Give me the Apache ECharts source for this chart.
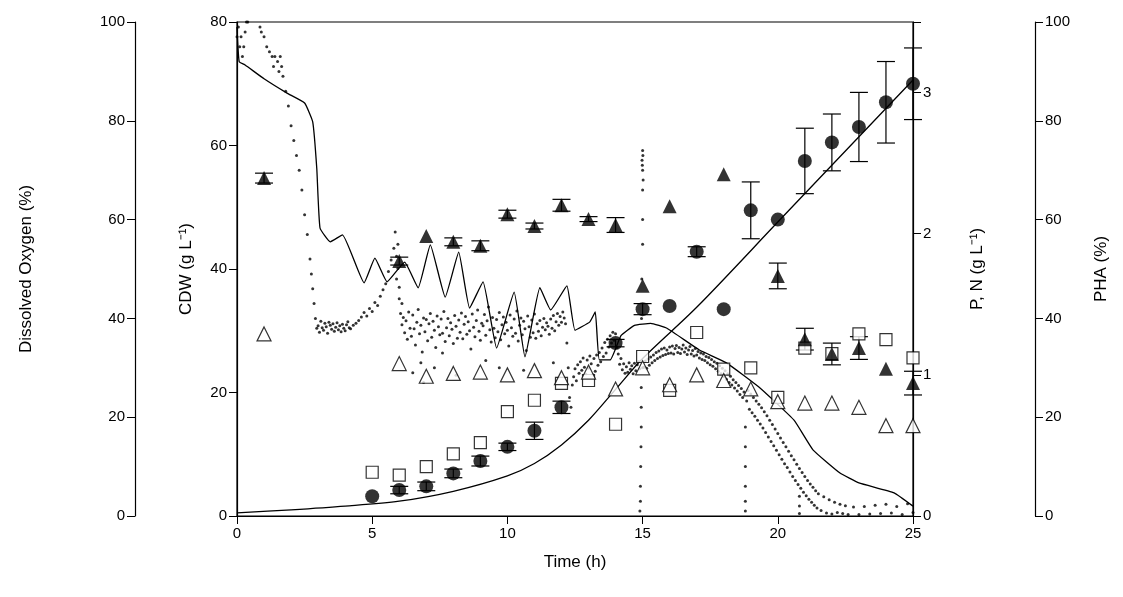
<!DOCTYPE html>
<html>
<head>
<meta charset="UTF-8">
<title>Fermentation profile</title>
<script src="https://cdn.jsdelivr.net/npm/echarts@6/dist/echarts.min.js"></script>
<style>
  html, body { margin: 0; padding: 0; background: #fff; }
  #chart { width: 1123px; height: 597px; }
</style>
</head>
<body>
<div id="chart"></div>
<script>
// CDW (g/L), filled circles
var cdwTime = [5, 6, 7, 8, 9, 10, 11, 12, 14, 15, 16, 17, 18, 19, 20, 21, 22, 23, 24, 25];
var cdwValue = [3.2, 4.2, 4.8, 6.9, 8.9, 11.2, 13.8, 17.6, 28, 33.5, 34, 42.8, 33.5, 49.5, 48, 57.5, 60.5, 63, 67, 70];
var cdwErr = [0, 0.6, 0.7, 0.7, 0.8, 0.6, 1.4, 1.0, 0.6, 0.9, 0, 0.8, 0, 4.6, 0, 5.3, 4.6, 5.6, 6.6, 5.8];
// CDW model line
var fitTime = [0, 2, 4, 6, 8, 10, 11, 12, 13, 14, 15, 17, 20, 25];
var fitValue = [0.5, 1.0, 1.6, 2.4, 4.0, 6.5, 8.5, 11.5, 15.5, 20.5, 25.5, 33.8, 47.6, 70.6];
// PHA (%), filled triangles
var phaTime = [1, 6, 7, 8, 9, 10, 11, 12, 13, 14, 15, 16, 18, 20, 21, 22, 23, 24, 25];
var phaValue = [68.4, 51.6, 56.7, 55.5, 54.7, 61.1, 58.7, 62.9, 60.1, 58.9, 46.6, 62.7, 69.2, 48.6, 35.8, 32.8, 34, 29.8, 26.9];
var phaErr = [1.0, 0.8, 0, 0.8, 1.0, 0.8, 0.6, 1.2, 0.5, 1.5, 0, 0, 0, 2.6, 2.2, 2.2, 2.3, 0, 2.4];
// P (g/L), open squares
var pTime = [5, 6, 7, 8, 9, 10, 11, 12, 13, 14, 15, 16, 17, 18, 19, 20, 21, 22, 23, 24, 25];
var pValue = [0.31, 0.29, 0.35, 0.44, 0.52, 0.74, 0.82, 0.94, 0.96, 0.65, 1.13, 0.89, 1.30, 1.04, 1.05, 0.84, 1.19, 1.15, 1.29, 1.25, 1.12];
// N (g/L), open triangles
var nTime = [1, 6, 7, 8, 9, 10, 11, 12, 13, 14, 15, 16, 17, 18, 19, 20, 21, 22, 23, 24, 25];
var nValue = [1.29, 1.08, 0.99, 1.01, 1.02, 1.00, 1.03, 0.98, 1.02, 0.90, 1.05, 0.93, 1.00, 0.96, 0.90, 0.81, 0.80, 0.80, 0.77, 0.64, 0.64];
// dissolved oxygen line (%)
var doLineTime = [0, 0.08, 0.3, 1.0, 1.85, 2.5, 2.8, 2.95, 3.07, 3.45, 3.9, 4.7, 5.1, 5.55, 6.2, 6.7, 7.15, 7.7, 8.2, 8.6, 9.1, 9.6, 10.25, 10.65, 11.2, 11.6, 12.2, 12.5, 13.05, 13.25, 13.4, 13.8, 14.2, 14.7, 15.3, 15.9, 17.1, 18.1, 19.3, 20.6, 21.3, 22.3, 23, 24.3, 25];
var doLineValue = [99, 92, 91.3, 88.5, 85.6, 83.6, 79.8, 70.4, 58.3, 55.5, 56.9, 47.2, 52.2, 47.4, 51.4, 46.2, 54.9, 44.3, 53.4, 42.1, 47.4, 34, 45.3, 32.2, 46.2, 41.7, 46.6, 37.6, 39.3, 41.3, 31.6, 31.6, 36.5, 38.6, 39.0, 38.0, 33.6, 31, 26.1, 19.4, 13.4, 8.7, 6.7, 4.7, 2];
// measured dissolved oxygen (%), small dots
var doDots = [
[0,97],[0.05,99],[0.1,95],[0.15,97],[0.2,93],[0.25,95],[0.3,98],[0.35,100],[0.4,100],
[0.85,99],[0.9,98],[1.0,97],[1.1,95],[1.2,94],[1.3,93],[1.35,91],[1.4,93],[1.5,92],[1.55,90],[1.6,93],[1.65,91],[1.7,89],[1.8,86],[1.9,83],[2.0,79],[2.1,76],[2.2,73],[2.3,70],[2.4,66],[2.5,61],[2.6,57],[2.7,52],[2.75,49],[2.8,46],[2.85,43],[2.9,40],[2.95,38],
[3.0,38.5],[3.05,37.2],[3.1,39.4],[3.15,38.1],[3.2,37.6],[3.25,39.0],[3.3,38.3],[3.35,37.0],[3.4,39.2],[3.45,38.6],[3.5,37.8],[3.55,38.9],[3.6,37.4],[3.65,38.2],[3.7,39.1],[3.75,37.7],[3.8,38.5],[3.85,37.3],[3.9,38.8],[3.95,38.0],[4.0,37.5],[4.05,38.7],[4.1,39.3],[4.15,38.1],[4.2,37.9],[4.3,38.6],[4.4,39.0],[4.5,39.6],[4.6,40.3],[4.7,41.2],[4.8,40.5],[4.9,42.0],[5.0,41.4],[5.1,43.2],[5.2,42.6],[5.3,44.5],[5.4,45.8],[5.5,47.0],[5.6,49.5],[5.7,51.8],[5.8,54.2],[5.85,57.5],[5.9,52.6],[5.95,50.1],[6.0,46.3],[6.05,41.0],[6.1,38.7],
[6.15,40.2],[6.2,37.1],[6.25,39.5],[6.3,35.8],[6.35,41.3],[6.4,38.0],[6.45,36.4],[6.5,40.7],[6.55,37.9],[6.6,34.6],[6.65,39.2],[6.7,41.8],[6.75,36.9],[6.8,38.6],[6.85,33.2],[6.9,40.1],[6.95,37.3],[7.0,39.8],[7.05,35.5],[7.1,38.9],[7.15,41.0],[7.2,36.2],[7.25,39.4],[7.3,37.6],[7.35,34.1],[7.4,40.5],[7.45,38.3],[7.5,36.7],[7.55,39.9],[7.6,37.0],[7.65,41.4],[7.7,35.3],[7.75,38.1],[7.8,40.0],[7.85,36.5],[7.9,39.1],[7.95,37.8],[8.0,34.9],[8.05,40.6],[8.1,38.4],[8.15,36.0],[8.2,39.7],[8.25,37.2],[8.3,41.1],[8.35,35.9],[8.4,38.8],[8.45,40.4],[8.5,36.8],[8.55,39.3],[8.6,37.5],[8.65,33.8],[8.7,40.9],[8.75,38.2],[8.8,36.3],[8.85,39.6],[8.9,41.7],[8.95,37.4],[9.0,35.6],[9.05,39.0],[9.1,38.5],[9.15,40.8],[9.2,36.6],[9.25,39.5],[9.3,42.3],[9.35,37.7],[9.4,35.2],[9.45,40.2],[9.5,38.0],[9.55,36.1],[9.6,39.8],[9.65,37.3],[9.7,41.2],[9.75,35.7],[9.8,38.7],[9.85,40.3],[9.9,36.9],[9.95,39.2],[10.0,37.6],[10.05,34.4],[10.1,40.7],[10.15,38.1],[10.2,36.4],[10.25,39.9],[10.3,37.0],[10.35,41.5],[10.4,35.4],[10.45,38.6],[10.5,40.1],[10.55,36.7],[10.6,39.4],[10.65,37.9],[10.7,33.5],[10.75,40.5],[10.8,38.3],[10.85,36.2],[10.9,39.7],[10.95,37.1],[11.0,40.9],[11.05,36.0],[11.1,38.9],[11.15,37.4],[11.2,39.6],[11.25,36.5],[11.3,38.2],[11.35,40.0],[11.4,37.7],[11.45,39.1],[11.5,38.4],[11.55,36.8],[11.6,39.9],[11.65,38.0],[11.7,40.6],[11.75,37.5],[11.8,39.3],[11.85,41.0],[11.9,38.6],[11.95,40.4],[12.0,39.2],[12.05,41.3],[12.1,40.1],[12.15,38.9],[12.2,35.0],
[6.5,29],[6.8,31],[7.3,30],[8.1,28.5],[9.2,31.5],[9.7,30],[10.6,29.5],[11.7,31],[6.9,27],[7.6,33],[6.0,44],[5.9,48],[6.1,43],[5.95,55],
[12.25,30],[12.3,24],[12.35,22],[12.4,26.5],[12.45,28.2],[12.5,29.8],[12.55,27.4],[12.6,30.6],[12.65,28.9],[12.7,31.2],[12.75,29.5],[12.8,32.0],[12.85,30.1],[12.9,28.7],[12.95,31.6],[13.0,29.9],[13.05,32.4],[13.1,30.8],[13.15,28.6],[13.2,31.9],[13.25,29.3],[13.3,32.6],[13.35,30.5],[13.4,33.1],[13.45,31.2],[13.5,34.0],[13.55,32.3],[13.6,35.1],[13.65,33.0],[13.7,35.8],[13.75,34.2],[13.8,36.5],[13.85,35.0],[13.9,37.2],[13.95,35.6],[14.0,36.9],[14.05,34.1],[14.1,32.8],[14.15,30.7],[14.2,31.9],[14.25,29.6],[14.3,30.8],[14.35,28.9],[14.4,30.2],[14.45,29.1],[14.5,31.0],[14.55,29.7],[14.6,30.4],[14.65,28.8],[14.7,30.9],[14.75,29.4],[14.8,30.6],[14.85,31.3],[14.9,29.8],
[14.98,72],[15.0,70],[15.0,74],[15.02,68],[15.0,66],[14.99,71],[15.01,73],[15,60],[15,55],[14.97,48],[14.96,40],[15,30],[14.95,26],[14.95,22],[14.95,18],[14.94,14],[14.93,10],[14.92,6],[14.92,3],[14.9,1],
[15.05,30.1],[15.1,31.4],[15.15,29.9],[15.2,31.8],[15.25,30.5],[15.3,32.2],[15.35,31.0],[15.4,32.6],[15.45,31.5],[15.5,33.1],[15.55,31.9],[15.6,33.4],[15.65,32.2],[15.7,33.8],[15.75,32.5],[15.8,34.0],[15.85,32.7],[15.9,33.6],[15.95,32.9],[16.0,34.2],[16.05,33.0],[16.1,34.4],[16.15,32.8],[16.2,33.9],[16.25,34.5],[16.3,33.1],[16.35,34.1],[16.4,32.9],[16.45,33.8],[16.5,34.6],[16.55,33.2],[16.6,34.0],[16.65,32.7],[16.7,33.6],[16.75,34.3],[16.8,32.8],[16.85,33.5],[16.9,32.4],[16.95,33.9],[17.0,32.6],[17.05,33.3],[17.1,32.0],[17.15,33.0],[17.2,31.7],[17.25,32.8],[17.3,31.5],[17.35,32.3],[17.4,31.0],[17.45,32.1],[17.5,30.6],[17.55,31.7],[17.6,30.3],[17.65,31.2],[17.7,29.8],[17.75,30.9],[17.8,29.3],[17.85,30.4],[17.9,28.8],[17.95,29.9],[18.0,28.2],[18.05,29.4],[18.1,27.7],[18.15,28.8],[18.2,27.0],[18.25,28.3],[18.3,26.5],[18.35,27.6],[18.4,25.9],[18.45,27.0],[18.5,25.3],[18.55,26.4],[18.6,24.6],[18.65,25.8],[18.7,24.0],[18.75,25.1],
[18.8,18],[18.8,14],[18.8,10],[18.8,6],[18.8,3],[18.8,1],
[18.85,23.3],[18.9,25.4],[18.95,21.6],[19.0,24.7],[19.05,20.9],[19.1,24.0],[19.15,20.2],[19.2,23.3],[19.25,19.4],[19.3,22.6],[19.35,18.6],[19.4,21.9],[19.45,17.8],[19.5,21.1],[19.55,16.9],[19.6,20.3],[19.65,16.0],[19.7,19.4],[19.75,15.1],[19.8,18.5],[19.85,14.2],[19.9,17.6],[19.95,13.3],[20.0,16.7],[20.05,12.4],[20.1,15.8],[20.15,11.5],[20.2,14.9],[20.25,10.6],[20.3,14.0],[20.35,9.8],[20.4,13.1],[20.45,8.9],[20.5,12.2],[20.55,8.0],[20.6,11.4],[20.65,7.2],[20.7,10.5],[20.75,6.4],[20.8,9.6],
[20.8,4],[20.8,2],[20.8,0.5],
[20.85,5.6],[20.9,8.8],[20.95,4.8],[21.0,8.0],[21.05,4.1],[21.1,7.2],[21.15,3.4],[21.2,6.5],[21.25,2.8],[21.3,5.8],[21.35,2.2],[21.4,5.1],[21.45,1.6],[21.5,4.5],[21.6,1.1],[21.7,3.9],[21.8,0.6],[21.9,3.3],[22.0,0.4],[22.1,2.8],[22.2,0.7],[22.3,2.4],[22.4,0.5],[22.5,2.1],[22.6,0.3],[22.8,1.8],[23.0,0.3],[23.2,1.9],[23.4,0.4],[23.6,2.2],[23.8,0.5],[24.0,2.4],[24.2,0.6],[24.4,1.9],[24.6,0.3],[24.8,2.5],[25.0,0.7]
];

function pairs(xs, ys) { return xs.map(function (x, i) { return [x, ys[i]]; }); }
function errData(xs, ys, es) {
  var out = [];
  xs.forEach(function (x, i) { if (es[i] > 0) out.push([x, ys[i] - es[i], ys[i] + es[i]]); });
  return out;
}
function errorBars(yIndex, data) {
  return {
    type: 'custom', yAxisIndex: yIndex, z: 3, silent: true,
    renderItem: function (params, api) {
      var lo = api.coord([api.value(0), api.value(1)]);
      var hi = api.coord([api.value(0), api.value(2)]);
      var w = 9;
      var st = { stroke: '#000', lineWidth: 1.2 };
      return { type: 'group', children: [
        { type: 'line', shape: { x1: lo[0], y1: lo[1], x2: hi[0], y2: hi[1] }, style: st },
        { type: 'line', shape: { x1: lo[0] - w, y1: lo[1], x2: lo[0] + w, y2: lo[1] }, style: st },
        { type: 'line', shape: { x1: hi[0] - w, y1: hi[1], x2: hi[0] + w, y2: hi[1] }, style: st }
      ] };
    },
    encode: { x: 0, y: [1, 2] },
    data: data
  };
}

var font = 'Liberation Sans, Arial, sans-serif';
function yAx(opts) {
  var base = {
    type: 'value', nameLocation: 'middle', nameRotate: 90,
    nameTextStyle: { fontSize: 17, color: '#000', fontFamily: font },
    axisLine: { show: true, lineStyle: { color: '#000', width: 1.2 } },
    axisTick: { show: true, inside: false, length: 8, lineStyle: { color: '#000' } },
    axisLabel: { color: '#000', fontSize: 15, fontFamily: font, margin: 10 },
    splitLine: { show: false }
  };
  return Object.assign(base, opts);
}

var chart = echarts.init(document.getElementById('chart'));
chart.setOption({
  animation: false,
  backgroundColor: '#fff',
  grid: { left: 237, right: 210, top: 22, bottom: 81, show: true, borderColor: '#000', borderWidth: 1.2 },
  xAxis: {
    type: 'value', min: 0, max: 25, interval: 5,
    name: 'Time (h)', nameLocation: 'middle', nameGap: 38,
    nameTextStyle: { fontSize: 17, color: '#000', fontFamily: font },
    axisLine: { lineStyle: { color: '#000', width: 1.2 } },
    axisTick: { length: 8, lineStyle: { color: '#000' } },
    axisLabel: { color: '#000', fontSize: 15, fontFamily: font, margin: 10 },
    splitLine: { show: false }
  },
  yAxis: [
    yAx({ min: 0, max: 80, interval: 20, position: 'left', name: 'CDW (g L\u207B\u00B9)', nameGap: 42 }),
    yAx({ min: 0, max: 100, interval: 20, position: 'left', offset: 102, name: 'Dissolved Oxygen (%)', nameGap: 100 }),
    yAx({ min: 0, max: 3.5, interval: 1, position: 'right', name: 'P, N (g L\u207B\u00B9)', nameGap: 56,
      axisLabel: { color: '#000', fontSize: 15, fontFamily: font, margin: 10,
        formatter: function (v) { return v % 1 === 0 ? String(v) : ''; } } }),
    yAx({ min: 0, max: 100, interval: 20, position: 'right', offset: 122, name: 'PHA (%)', nameGap: 58 })
  ],
  series: [
    { type: 'scatter', yAxisIndex: 1, data: doDots, symbol: 'circle', symbolSize: 3,
      itemStyle: { color: '#000' }, z: 1 },
    { type: 'line', yAxisIndex: 1, data: pairs(doLineTime, doLineValue), showSymbol: false, smooth: 0.12,
      lineStyle: { color: '#000', width: 1.3 }, z: 2 },
    { type: 'line', yAxisIndex: 0, data: pairs(fitTime, fitValue), showSymbol: false, smooth: 0.3,
      lineStyle: { color: '#000', width: 1.3 }, z: 2 },
    errorBars(0, errData(cdwTime, cdwValue, cdwErr)),
    errorBars(3, errData(phaTime, phaValue, phaErr)),
    { type: 'scatter', yAxisIndex: 0, data: pairs(cdwTime, cdwValue), symbol: 'circle', symbolSize: 14,
      itemStyle: { color: '#000' }, z: 5 },
    { type: 'scatter', yAxisIndex: 3, data: pairs(phaTime, phaValue), symbol: 'triangle', symbolSize: 14,
      itemStyle: { color: '#000' }, z: 5 },
    { type: 'scatter', yAxisIndex: 2, data: pairs(pTime, pValue), symbol: 'rect', symbolSize: 12,
      itemStyle: { color: '#fff', borderColor: '#000', borderWidth: 1.2 }, z: 4 },
    { type: 'scatter', yAxisIndex: 2, data: pairs(nTime, nValue), symbol: 'triangle', symbolSize: 14,
      itemStyle: { color: '#fff', borderColor: '#000', borderWidth: 1.2 }, z: 4 }
  ]
});
</script>
</body>
</html>
